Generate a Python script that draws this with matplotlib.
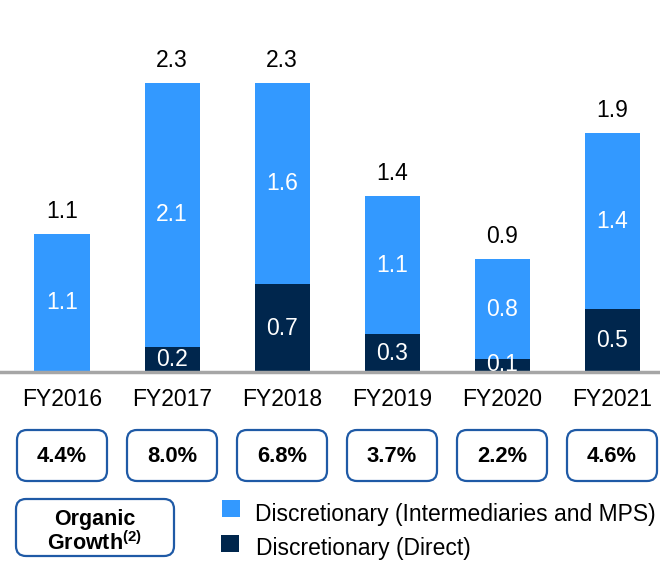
import matplotlib
matplotlib.use("Agg")
import matplotlib.pyplot as plt
from matplotlib.patches import FancyBboxPatch, Rectangle

plt.rcParams['font.family'] = ['Liberation Sans', 'DejaVu Sans']
plt.rcParams['mathtext.fontset'] = 'custom'
plt.rcParams['mathtext.rm'] = 'Liberation Sans'
plt.rcParams['mathtext.bf'] = 'Liberation Sans:bold'

years = ["FY2016", "FY2017", "FY2018", "FY2019", "FY2020", "FY2021"]
direct = [0.0, 0.2, 0.7, 0.3, 0.1, 0.5]
intermediaries = [1.1, 2.1, 1.6, 1.1, 0.8, 1.4]
totals = [1.1, 2.3, 2.3, 1.4, 0.9, 1.9]
organic_growth = ["4.4%", "8.0%", "6.8%", "3.7%", "2.2%", "4.6%"]

LIGHT = "#3399FF"
DARK = "#00264D"
EDGE = "#1F5AA6"

W, H = 660, 561
fig = plt.figure(figsize=(W / 100, H / 100), dpi=100)

# main bar axes
base_px = 372
ax = fig.add_axes([0, 1 - base_px / H, 1, base_px / H])
x = list(range(len(years)))
ax.bar(x, direct, width=0.5, color=DARK)
ax.bar(x, intermediaries, bottom=direct, width=0.5, color=LIGHT)
ax.set_xlim(-62 / 110, (W - 62) / 110)
ax.set_ylim(0, base_px / 125.7)
for s in ax.spines.values():
    s.set_visible(False)
ax.set_xticks([])
ax.set_yticks([])
ax.axhline(0, color="#A6A6A6", lw=2.5, clip_on=False)

FS = 16.5
for i in x:
    ax.annotate(f"{totals[i]:.1f}", (i, totals[i]), xytext=(0, 8), textcoords="offset points",
                ha="center", va="bottom", fontsize=FS, color="black")
    ax.text(i, direct[i] + intermediaries[i] / 2, f"{intermediaries[i]:.1f}",
            ha="center", va="center", fontsize=FS, color="white")
    if direct[i] > 0:
        ax.text(i, max(direct[i] / 2, 0.06), f"{direct[i]:.1f}",
                ha="center", va="center", fontsize=FS, color="white")

# overlay axes in pixel coords
ov = fig.add_axes([0, 0, 1, 1])
ov.set_xlim(0, W)
ov.set_ylim(H, 0)
ov.axis("off")

for i, yr in enumerate(years):
    cx = 62 + 110 * i
    ov.text(cx, 399, yr, ha="center", va="center", fontsize=FS, color="black")
    ov.add_patch(FancyBboxPatch((cx - 45 + 8, 430 + 8), 90 - 16, 51 - 16,
                                boxstyle="round,pad=8,rounding_size=10",
                                fc="white", ec=EDGE, lw=1.6))
    ov.text(cx, 456, organic_growth[i], ha="center", va="center",
            fontsize=15.8, fontweight="bold", color="black")

ov.add_patch(FancyBboxPatch((16 + 8, 499 + 8), 158 - 16, 57 - 16,
                            boxstyle="round,pad=8,rounding_size=10",
                            fc="white", ec=EDGE, lw=1.6))
ov.text(95, 520, "Organic", ha="center", va="center", fontsize=15.5, fontweight="bold")
ov.text(95, 543, r"Growth$^{\mathbf{(2)}}$", ha="center", va="center", fontsize=15.5, fontweight="bold")

ov.add_patch(Rectangle((222, 500), 18, 17, fc=LIGHT, ec="none"))
ov.add_patch(Rectangle((221, 535), 18, 17, fc=DARK, ec="none"))
ov.text(255, 514, "Discretionary (Intermediaries and MPS)", ha="left", va="center", fontsize=FS)
ov.text(256, 548, "Discretionary (Direct)", ha="left", va="center", fontsize=FS)

fig.savefig("out.png", dpi=100)
